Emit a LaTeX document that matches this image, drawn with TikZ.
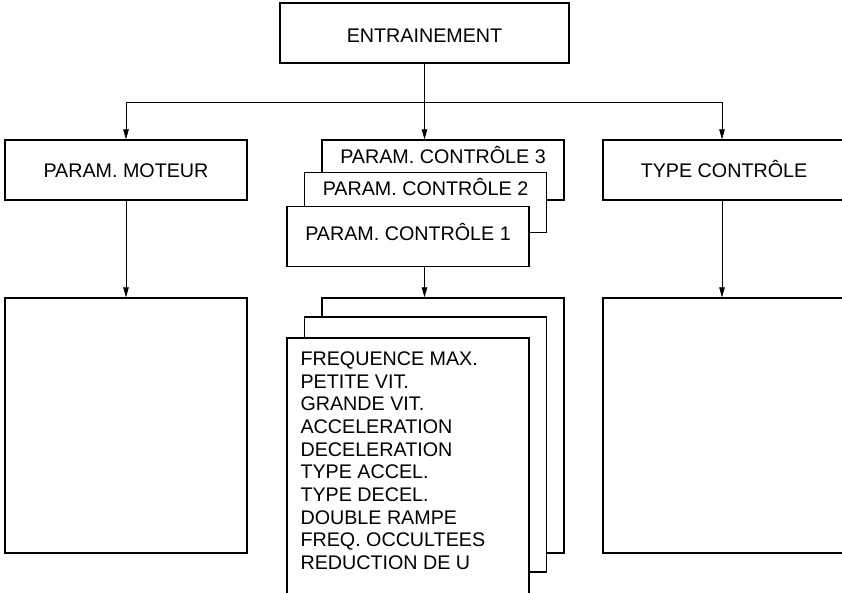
\documentclass[tikz,border=0pt]{standalone}
\usepackage{fontspec}
\setmainfont{Liberation Sans}
\usetikzlibrary{arrows.meta,positioning}
\tikzset{
  box/.style={draw,line width=1.3pt,fill=white,inner sep=0pt,minimum width=242pt,minimum height=60pt,text height=14.1pt,text depth=0pt},
  tall/.style={box,minimum height=255pt},
  lbl/.style={inner sep=0pt,text height=14.1pt,text depth=0pt},
  link/.style={line width=0.8pt,-{Triangle[length=10pt,width=5.5pt]}}
}

\begin{document}
\begin{tikzpicture}[x=1pt,y=1pt,font=\fontsize{19.7}{22.7}\selectfont]
  \useasboundingbox (0,0) rectangle (842,592);
  % Entrainement
  \node[box,minimum width=289pt,text height=20pt] (ent) at (424.5,559) {ENTRAINEMENT};
  \coordinate (busL) at (126,490);
  \coordinate (busR) at (722,490);
  \draw[line width=0.8pt] (busL) -- (busR);
  % Param. moteur
  \node[box] (moteur) at (126,422) {PARAM. MOTEUR};
  \node[tall] (pmot) at (126,166.5) {};
  % Type controle
  \node[box] (typ) at (724,422) {TYPE CONTRÔLE};
  \node[tall] (ptyp) at (724,166.5) {};
  % Param. controle 3, 2, 1
  \node[box] (ctl3) at (443,422) {};
  \node[lbl] (t3) at ([yshift=14pt]ctl3) {PARAM. CONTRÔLE 3};
  \node[box] (ctl2) at (425.5,389.5) {};
  \node[lbl] (t2) at ([yshift=14pt]ctl2) {PARAM. CONTRÔLE 2};
  \node[box] (ctl1) at (408,355.5) {};
  \node[lbl] (t1) at ([yshift=3.5pt]ctl1) {PARAM. CONTRÔLE 1};
  % Parametres
  \node[tall] (lst3) at (443,166.5) {};
  \node[tall] (lst2) at (425.5,147.5) {};
  \node[tall,minimum height=262pt] (lst1) at (408,123) {};
  \node[anchor=north west,align=left,inner sep=0pt] (params) at ([shift={(14pt,-14pt)}]lst1.north west)
    {FREQUENCE MAX.\\PETITE VIT.\\GRANDE VIT.\\ACCELERATION\\DECELERATION\\TYPE ACCEL.\\TYPE DECEL.\\DOUBLE RAMPE\\FREQ. OCCULTEES\\REDUCTION DE U};
  % Liaisons
  \draw[link] (ent.south) -- (ent.south |- ctl3.north);
  \draw[link] (busL) -- (moteur.north);
  \draw[link] (busR) -- (busR |- typ.north);
  \draw[link] (moteur.south) -- (pmot.north);
  \draw[link] (busR |- typ.south) -- (busR |- ptyp.north);
  \draw[link] (ent.south |- ctl1.south) -- (ent.south |- lst3.north);
\end{tikzpicture}
\end{document}
